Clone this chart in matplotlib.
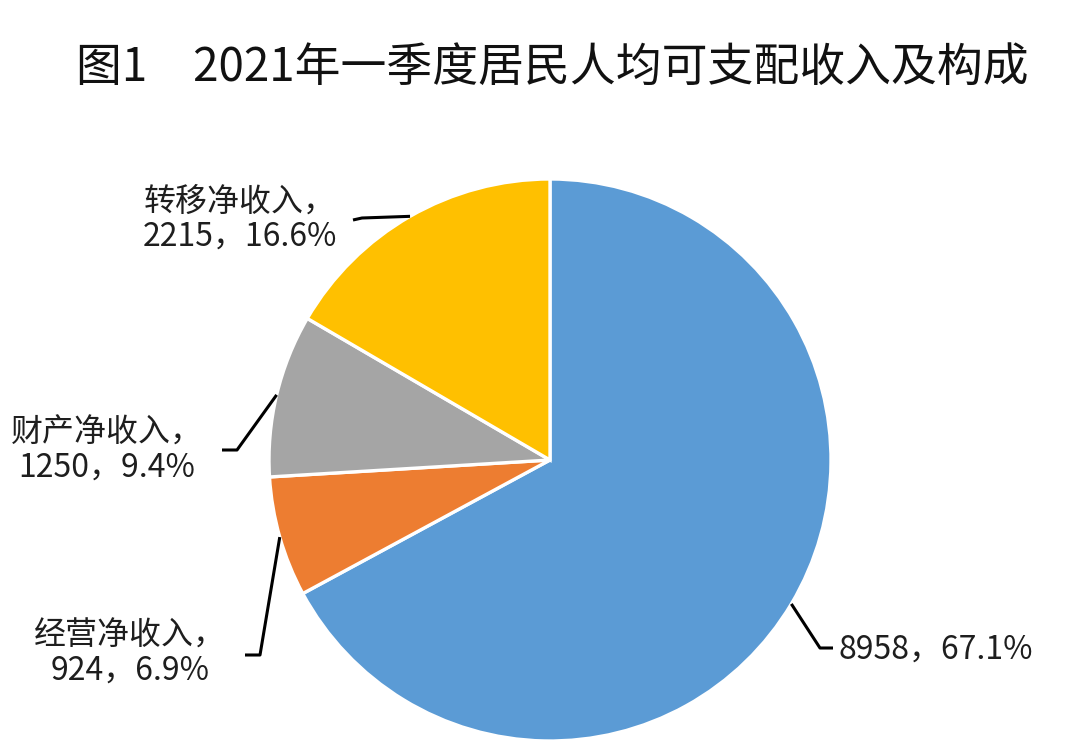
import numpy as np
import matplotlib
matplotlib.use("Agg")
import matplotlib.pyplot as plt

plt.rcParams['font.family'] = ['Noto Sans CJK SC', 'DejaVu Sans']

TITLE = "图1　2021年一季度居民人均可支配收入及构成"
NAMES = ["工资性收入", "经营净收入", "财产净收入", "转移净收入"]
VALUES = [8958, 924, 1250, 2215]
PCTS = [67.1, 6.9, 9.4, 16.6]
COLORS = ["#5B9BD5", "#ED7D31", "#A5A5A5", "#FFC000"]
SHOW_NAME = [False, True, True, True]

# layout in pixels (y measured upward from the bottom of the 1080x752 canvas)
W, H = 1080, 752
CX, CY, R = 550, 292, 281
# label anchor (x, y, ha) and leader elbow / end points
LABEL_POS = [(838, 102, "left"), (130, 99, "center"), (107, 302, "center"), (240, 533, "center")]
ELBOW = [(820, 104), (260, 97), (237, 302), (362, 534)]
LEND = [(833, 104), (245, 97), (222, 302), (353, 532)]

fig = plt.figure(figsize=(W / 100, H / 100), dpi=100)
ax = fig.add_axes([0, 0, 1, 1])

wedges, _ = ax.pie(VALUES, colors=COLORS, startangle=90, counterclock=False,
                   center=(CX, CY), radius=R, frame=True,
                   wedgeprops=dict(edgecolor="white", linewidth=2.4))
ax.set_xlim(0, W)
ax.set_ylim(0, H)
ax.set_aspect("equal")
ax.axis("off")

for i, w in enumerate(wedges):
    mid = np.deg2rad((w.theta1 + w.theta2) / 2)
    sx, sy = CX + R * np.cos(mid), CY + R * np.sin(mid)
    ex, ey = ELBOW[i]
    lx, ly = LEND[i]
    ax.plot([sx, ex, lx], [sy, ey, ly], color="black", lw=2.2, solid_capstyle="butt")
    txt = f"{VALUES[i]}，{PCTS[i]}%"
    if SHOW_NAME[i]:
        txt = f"{NAMES[i]}，\n" + txt
    x, y, ha = LABEL_POS[i]
    ax.text(x, y, txt, ha=ha, va="center", multialignment="center",
            fontsize=23, color="#1e1e1e", linespacing=1.12)

ax.text(W / 2 + 12, H - 68, TITLE, ha="center", va="center", fontsize=33, color="#111111")

fig.savefig("out.png", dpi=100, facecolor="white")
